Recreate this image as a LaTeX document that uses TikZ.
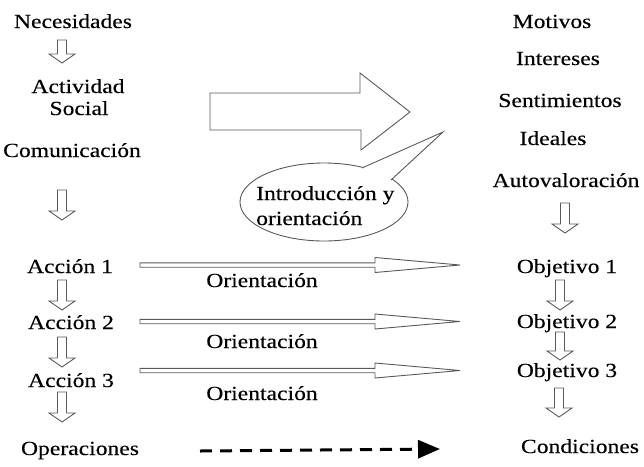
\documentclass[tikz,border=0pt]{standalone}
\usepackage{fontspec}
\setmainfont{Liberation Serif}[FakeStretch=1.18,FakeBold=0.25]
\usetikzlibrary{arrows.meta,calc}

\tikzset{
  lbl/.style    ={font=\fontsize{20}{24}\selectfont, anchor=base, inner sep=0pt},
  outline/.style={draw=black!65, line width=0.9pt, fill=white, line join=miter},
  dashline/.style={line width=3pt, dash pattern=on 12pt off 8pt,
                   -{Triangle[length=22pt,width=18pt]}},
}
% hollow block arrow pointing down: x, top, tip
\newcommand{\hollowdown}[3]{%
  \draw[outline] (#1-4.5,#2) -- (#1+4.5,#2) -- (#1+4.5,#3-9) -- (#1+13,#3-9)
    -- (#1,#3) -- (#1-13,#3-9) -- (#1-4.5,#3-9) -- cycle;}
% thin hollow arrow to the right: y of its axis
\newcommand{\thinarrow}[1]{%
  \draw[outline] (140,#1-2.2) -- (375,#1-2.2) -- (375,#1-7.5) -- (460,#1)
    -- (375,#1+7.5) -- (375,#1+2.2) -- (140,#1+2.2) -- cycle;}

\begin{document}
\begin{tikzpicture}[x=1pt, y=-1pt]
  \useasboundingbox (0,0) rectangle (644,466);

  %--- left column ---
  \node[lbl] (nec)  at (73,28)  {Necesidades};
  \node[lbl] (act)  at (78,93)  {Actividad};
  \node[lbl] (soc)  at (79,115) {Social};
  \node[lbl] (com)  at (72,157) {Comunicación};
  \node[lbl] (acc1) at (70,273) {Acción 1};
  \node[lbl] (acc2) at (71,329) {Acción 2};
  \node[lbl] (acc3) at (71,387) {Acción 3};
  \node[lbl] (ops)  at (80,455) {Operaciones};

  \hollowdown{62}{40}{63}
  \hollowdown{62}{190}{220}
  \hollowdown{62}{280}{310}
  \hollowdown{62}{337}{367}
  \hollowdown{62}{392}{422}

  %--- right column ---
  \node[lbl] (mot)  at (552,28)  {Motivos};
  \node[lbl] (int)  at (558,65)  {Intereses};
  \node[lbl] (sen)  at (560,107) {Sentimientos};
  \node[lbl] (ide)  at (553,145) {Ideales};
  \node[lbl] (aut)  at (566,187) {Autovaloración};
  \node[lbl] (obj1) at (567,273) {Objetivo 1};
  \node[lbl] (obj2) at (567,328) {Objetivo 2};
  \node[lbl] (obj3) at (567,377) {Objetivo 3};
  \node[lbl] (cond) at (580,453) {Condiciones};

  \hollowdown{565}{203}{233}
  \hollowdown{560}{280}{310}
  \hollowdown{560}{332}{360}
  \hollowdown{559}{388}{417}

  %--- big arrow ---
  \draw[outline] (210,93) -- (360,93) -- (360,73) -- (410,112)
    -- (361,150) -- (361,130) -- (210,130) -- cycle;

  %--- callout ---
  \draw[outline] (324,202) ellipse [x radius=84, y radius=39];
  \coordinate (tipA) at (362,168);
  \coordinate (tip)  at (443,132);
  \coordinate (tipB) at (391,180);
  \fill[white] (tipA) -- (tip) -- (tipB) -- cycle;
  \draw[black!65, line width=0.9pt, line join=miter] (tipA) -- (tip) -- (tipB);
  \node[lbl, anchor=base west] (intro) at (256,200) {Introducción y};
  \node[lbl, anchor=base west] (ori)   at (256,225) {orientación};

  %--- orientation arrows ---
  \thinarrow{265}
  \thinarrow{321.5}
  \thinarrow{370.5}
  \node[lbl] (o1) at (262,287) {Orientación};
  \node[lbl] (o2) at (262,348) {Orientación};
  \node[lbl] (o3) at (262,400) {Orientación};

  %--- dashed arrow ---
  \coordinate (dA) at (200,451);
  \coordinate (dB) at (440,449);
  \draw[dashline] (dA) -- (dB);
\end{tikzpicture}
\end{document}
